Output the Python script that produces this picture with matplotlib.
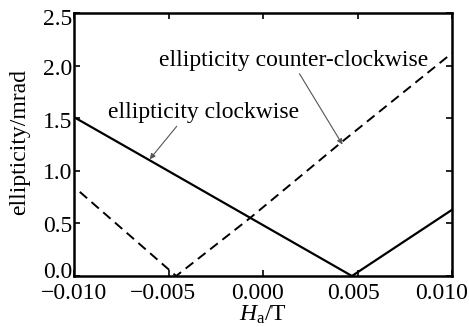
import matplotlib
matplotlib.use("Agg")
import matplotlib.pyplot as plt
from matplotlib.transforms import ScaledTranslation

# Data
cw_x = [-0.010, -0.006, -0.0007, 0.0047, 0.010]
cw_y = [1.51, 1.10, 0.555, 0.0, 0.63]
ccw_x = [-0.0097, -0.0046, -0.0007, 0.0042, 0.010]
ccw_y = [0.80, 0.0, 0.55, 1.28, 2.12]
xticks = [-0.010, -0.005, 0.000, 0.005, 0.010]
xticklabels = ["\u22120.010", "\u22120.005", "0.000", "0.005", "0.010"]
yticks = [0.0, 0.5, 1.0, 1.5, 2.0, 2.5]
yticklabels = ["0.0", "0.5", "1.0", "1.5", "2.0", "2.5"]

plt.rcParams['font.family'] = ['Liberation Serif', 'DejaVu Serif']
plt.rcParams['mathtext.fontset'] = 'custom'
plt.rcParams['mathtext.rm'] = 'Liberation Serif'
plt.rcParams['mathtext.it'] = 'Liberation Serif:italic'

FS = 17

fig = plt.figure(figsize=(4.69, 3.27), dpi=100)
ax = fig.add_axes([0.158, 0.156, 0.806, 0.804])

ax.plot(cw_x, cw_y, color='black', lw=1.6, solid_joinstyle='round')
ax.plot(ccw_x, ccw_y, color='black', lw=1.4, dashes=(5, 3))

ax.set_xlim(-0.010, 0.010)
ax.set_ylim(0.0, 2.5)
ax.set_xticks(xticks)
ax.set_xticklabels(xticklabels)
ax.set_yticks(yticks)
ax.set_yticklabels(yticklabels)
ax.tick_params(direction='in', top=True, right=True, length=4, width=1.2,
               labelsize=FS)
ax.tick_params(axis='x', pad=5)
ax.tick_params(axis='y', pad=1)
for s in ax.spines.values():
    s.set_linewidth(1.8)

# small nudges of tick labels (pixels) as in the reference
xoffsets = [0, -6, -6, -4, -11]
for lab, dx in zip(ax.get_xticklabels(), xoffsets):
    lab.set_transform(lab.get_transform() + ScaledTranslation(dx / 100, 0, fig.dpi_scale_trans))
yoffsets = [6, -1, 0, -2, -1, -4]
for lab, dy in zip(ax.get_yticklabels(), yoffsets):
    lab.set_transform(lab.get_transform() + ScaledTranslation(0, dy / 100, fig.dpi_scale_trans))

ax.set_ylabel("ellipticity/mrad", fontsize=FS)
ax.yaxis.set_label_coords(-0.117, 0.511)
ax.set_xlabel(r"$H_{\mathrm{a}}$/T", fontsize=FS, labelpad=0)

ax.annotate("ellipticity clockwise", xy=(-0.0060, 1.11), xytext=(-0.0082, 1.55),
            fontsize=FS, ha='left', va='center',
            arrowprops=dict(arrowstyle='-|>', color='#555555', lw=0.8,
                            mutation_scale=8, shrinkA=0, shrinkB=0,
                            relpos=(0.38, 0.1)),
            )
ax.annotate("ellipticity counter-clockwise", xy=(0.0042, 1.25), xytext=(-0.0055, 2.05),
            fontsize=FS, ha='left', va='center',
            arrowprops=dict(arrowstyle='-|>', color='#555555', lw=0.8,
                            mutation_scale=8, shrinkA=0, shrinkB=0,
                            relpos=(0.51, 0.1)),
            )

fig.savefig("out.png", dpi=100)
